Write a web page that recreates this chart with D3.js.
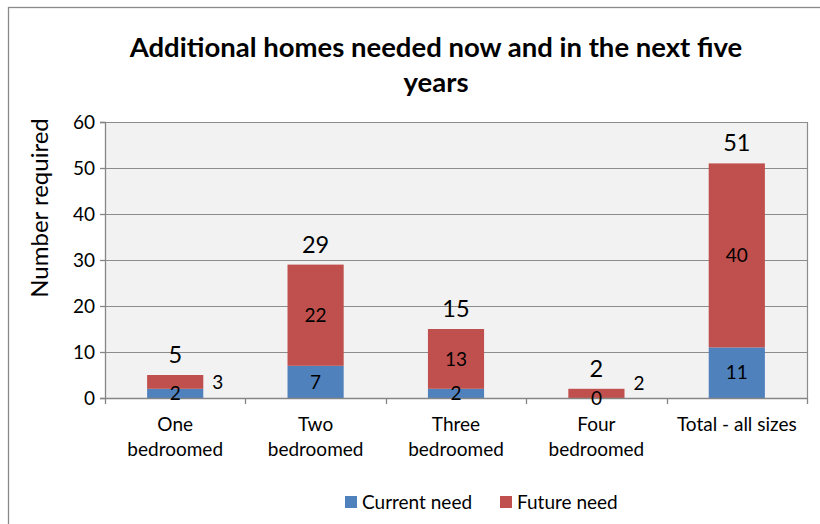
<!DOCTYPE html>
<html>
<head>
<meta charset="utf-8">
<script src="https://cdn.jsdelivr.net/npm/d3@7"></script>
<style>
  body { margin: 0; background: #fff; }
  svg text { font-family: Lato, "Open Sans", sans-serif; fill: #000; }
</style>
</head>
<body>
<div id="chart"></div>
<script>
// chart data
const categories = [['One', 'bedroomed'], ['Two', 'bedroomed'], ['Three', 'bedroomed'], ['Four', 'bedroomed'], ['Total - all sizes']];
const currentNeed = [2, 7, 2, 0, 11];
const futureNeed = [3, 22, 13, 2, 40];
const yTicks = [0, 10, 20, 30, 40, 50, 60];
const seriesNames = ['Current need', 'Future need'];
const colors = ['#4F81BD', '#C0504D'];

const width = 820, height = 524;
const margin = { top: 122, right: 13, bottom: 126, left: 105 };
const innerW = width - margin.left - margin.right;
const innerH = height - margin.top - margin.bottom;

const svg = d3.select('#chart')
    .append('svg')
    .attr('width', width)
    .attr('height', height);

// outer chart frame
svg.append('rect')
    .attr('x', 8.5).attr('y', 7.5)
    .attr('width', width + 10).attr('height', height + 10)
    .attr('fill', 'none')
    .attr('stroke', '#8a8a8a')
    .attr('stroke-width', 1.3);

// title
const title = svg.append('text')
    .attr('text-anchor', 'middle')
    .style('font-weight', 'bold')
    .style('font-size', '27.5px');
title.append('tspan').attr('x', 436).attr('y', 57).text('Additional homes needed now and in the next five');
title.append('tspan').attr('x', 436).attr('y', 92).text('years');

const g = svg.append('g')
    .attr('transform', `translate(${margin.left}, ${margin.top})`);

const x = d3.scaleBand()
    .domain(d3.range(categories.length))
    .range([0, innerW])
    .paddingInner(0.6)
    .paddingOuter(0.3);

const y = d3.scaleLinear()
    .domain([0, 60])
    .range([innerH, 0]);

// plot background
g.append('rect')
    .attr('width', innerW)
    .attr('height', innerH)
    .attr('fill', '#f2f2f2');

// gridlines
g.selectAll('.grid')
    .data(yTicks.slice(1))
    .join('line')
    .attr('class', 'grid')
    .attr('x1', 0).attr('x2', innerW)
    .attr('y1', d => Math.round(y(d)) + 0.5)
    .attr('y2', d => Math.round(y(d)) + 0.5)
    .attr('stroke', '#8c8c8c')
    .attr('stroke-width', 1.2);

// right edge of plot area
g.append('line')
    .attr('x1', innerW + 0.5).attr('x2', innerW + 0.5)
    .attr('y1', 0).attr('y2', innerH)
    .attr('stroke', '#8c8c8c')
    .attr('stroke-width', 1.2);

// stacked data
const stackData = categories.map((c, i) => ({ i, current: currentNeed[i], future: futureNeed[i] }));
const stacked = d3.stack().keys(['current', 'future'])(stackData);

g.selectAll('.series')
    .data(stacked)
    .join('g')
    .attr('fill', (d, k) => colors[k])
    .selectAll('rect')
    .data(d => d)
    .join('rect')
    .attr('x', d => x(d.data.i))
    .attr('width', x.bandwidth())
    .attr('y', d => y(d[1]))
    .attr('height', d => y(d[0]) - y(d[1]));

// y axis
const yAxis = g.append('g')
    .call(d3.axisLeft(y).tickValues(yTicks).tickSize(5).tickPadding(5));
yAxis.selectAll('text').style('font-size', '19px').attr('dy', '0.35em');

// x axis with ticks between categories
const step = x.step();
const xAxis = g.append('g')
    .attr('transform', `translate(0, ${innerH})`);
xAxis.append('line')
    .attr('x1', 0).attr('x2', innerW)
    .attr('y1', 0.5).attr('y2', 0.5);
xAxis.selectAll('.tick')
    .data(d3.range(categories.length + 1))
    .join('line')
    .attr('class', 'tick')
    .attr('x1', d => Math.round(x(0) - x.step() * x.paddingOuter() + d * step) + 0.5)
    .attr('x2', d => Math.round(x(0) - x.step() * x.paddingOuter() + d * step) + 0.5)
    .attr('y1', 0).attr('y2', 6);
xAxis.selectAll('line').attr('stroke', '#868686').attr('stroke-width', 1.3);
yAxis.selectAll('.domain, .tick line').attr('stroke', '#868686').attr('stroke-width', 1.3);

xAxis.selectAll('.cat')
    .data(categories)
    .join('text')
    .attr('class', 'cat')
    .attr('text-anchor', 'middle')
    .style('font-size', '19px')
    .each(function (lines, i) {
        d3.select(this).selectAll('tspan')
            .data(lines)
            .join('tspan')
            .attr('x', x(i) + x.bandwidth() / 2)
            .attr('y', (d, k) => 33 + k * 25)
            .text(d => d);
    });

// segment labels: current need
g.selectAll('.lab-current')
    .data(stacked[0])
    .join('text')
    .attr('text-anchor', 'middle')
    .attr('dy', '0.35em')
    .style('font-size', '19px')
    .attr('x', d => x(d.data.i) + x.bandwidth() / 2)
    .attr('y', d => Math.min(y((d[0] + d[1]) / 2), innerH + 1))
    .text(d => d.data.current);

// segment labels: future need (outside when the segment is too small)
g.selectAll('.lab-future')
    .data(stacked[1])
    .join('text')
    .attr('dy', '0.35em')
    .style('font-size', '19px')
    .each(function (d) {
        const small = (y(d[0]) - y(d[1])) < 20;
        const cx = x(d.data.i) + x.bandwidth() / 2;
        d3.select(this)
            .attr('text-anchor', small ? 'start' : 'middle')
            .attr('x', small ? x(d.data.i) + x.bandwidth() + 9 : cx)
            .attr('y', small ? Math.min(y((d[0] + d[1]) / 2), innerH - 15) : y((d[0] + d[1]) / 2))
            .text(d.data.future);
    });

// totals above bars
g.selectAll('.lab-total')
    .data(stackData)
    .join('text')
    .attr('text-anchor', 'middle')
    .style('font-size', '23.5px')
    .attr('x', d => x(d.i) + x.bandwidth() / 2)
    .attr('y', d => y(d.current + d.future) - 12)
    .text(d => d.current + d.future);

// y axis title
svg.append('text')
    .attr('transform', 'translate(48, 208) rotate(-90)')
    .attr('text-anchor', 'middle')
    .style('font-size', '24px')
    .text('Number required');

// legend
const legend = svg.append('g').attr('transform', 'translate(345, 502)');
const item = legend.selectAll('g')
    .data(seriesNames)
    .join('g')
    .attr('transform', (d, i) => `translate(${i * 155}, 0)`);
item.append('rect')
    .attr('x', 0).attr('y', -6)
    .attr('width', 12).attr('height', 12)
    .attr('fill', (d, i) => colors[i]);
item.append('text')
    .attr('x', 17)
    .attr('dy', '0.35em')
    .style('font-size', '19px')
    .text(d => d);
</script>
</body>
</html>
